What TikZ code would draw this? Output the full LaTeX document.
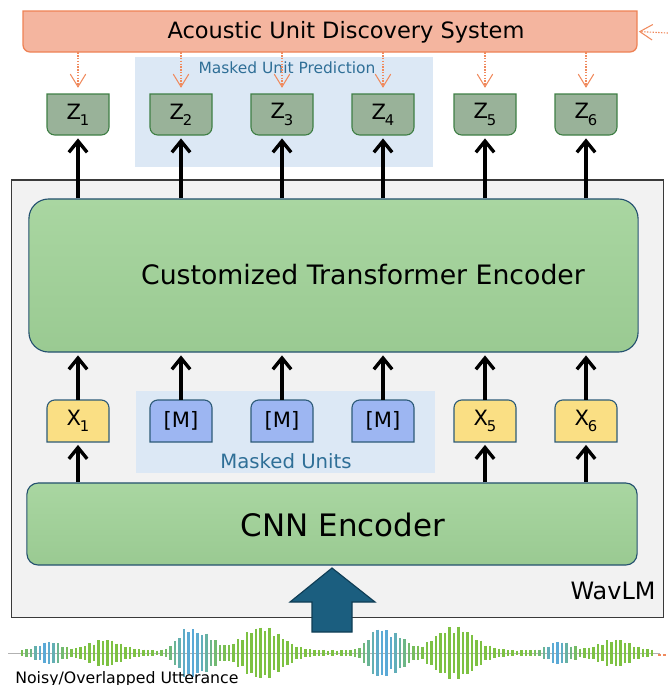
\documentclass[tikz,border=0pt]{standalone}
\usepackage{fontspec}
\setmainfont{DejaVu Sans}
\usetikzlibrary{arrows.meta,positioning}

\definecolor{audfill}{HTML}{F4B59F}
\definecolor{audline}{HTML}{EE8255}
\definecolor{hintline}{HTML}{F08A5D}
\definecolor{maskbg}{HTML}{DCE8F5}
\definecolor{masktext}{HTML}{2F6F97}
\definecolor{zfill}{HTML}{99B299}
\definecolor{zline}{HTML}{3F7F45}
\definecolor{enctop}{HTML}{A9D6A1}
\definecolor{encbot}{HTML}{9ACA92}
\definecolor{encline}{HTML}{24516F}
\definecolor{xfill}{HTML}{FADF84}
\definecolor{mfill}{HTML}{9DB6F2}
\definecolor{boxline}{HTML}{2D5B78}
\definecolor{wavbg}{HTML}{F2F2F2}
\definecolor{wavline}{HTML}{3A3A3A}
\definecolor{feedfill}{HTML}{1B5E7F}
\definecolor{feedline}{HTML}{0F3D55}
\definecolor{waveblue}{HTML}{5AA9D9}
\definecolor{wavegreen}{HTML}{7DC142}

\newcommand{\unitlabel}[2]{#1\kern-0.8pt\raisebox{-0.55ex}{\fontsize{10.5}{10.5}\selectfont #2}}

\begin{document}
\begin{tikzpicture}[x=0.025cm, y=-0.025cm,
  every node/.style={inner sep=0pt},
  uparrow/.style={-{Straight Barb[length=8pt,width=13pt]}, line width=2.4pt, shorten >=2pt},
  hintarrow/.style={-{Straight Barb[length=9pt,width=11pt,line width=0.75pt]}, draw=hintline, dash pattern=on 1pt off 1pt, line width=0.8pt, shorten >=4pt},
  unitbox/.style={minimum width=1.55cm, minimum height=1.04cm, font=\fontsize{15}{15}\selectfont},
  zshape/.style={fill=zfill, draw=zline, line width=0.8pt},
  xshape/.style={fill=xfill, draw=boxline, line width=0.8pt},
  mshape/.style={fill=mfill, draw=boxline, line width=0.8pt},
  encoder/.style={draw=encline, line width=0.8pt, top color=enctop, bottom color=encbot},
  maskarea/.style={fill=maskbg},
  declare function={bump(\t,\c,\w)=exp(-min(((\t-\c)/\w)*((\t-\c)/\w),30));}]

\useasboundingbox (0,0) rectangle (668,685);

\draw[fill=audfill, draw=audline, line width=0.9pt] (330,11) -- (23,11) [rounded corners=5pt] -- (23,52) -- (637,52) [sharp corners] -- (637,11) -- cycle;
\node[minimum width=15.35cm, minimum height=1.025cm] (aud) at (330,31.5) {};
\node[font=\fontsize{16}{16}\selectfont] (audlabel) at (346,32) {Acoustic Unit Discovery System};
\coordinate (fbin) at (668,33);
\draw[hintarrow, shorten >=1pt] (fbin) -- (aud.east);

\node[maskarea, minimum width=7.45cm, minimum height=2.75cm] (predarea) at (284,112) {};
\node[font=\fontsize{11}{11}\selectfont, text=masktext] (predlabel) at (287,68) {Masked Unit Prediction};

\node[fill=wavbg, draw=wavline, line width=0.8pt, minimum width=16.275cm, minimum height=10.925cm] (wavlm) at (337.5,398.5) {};
\node[font=\fontsize{17}{17}\selectfont] (wavlmlabel) at (613,591) {WavLM};

\node[maskarea, minimum width=7.475cm, minimum height=2.05cm] (maskedarea) at (285.5,432) {};
\node[font=\fontsize{14}{14}\selectfont, text=masktext] (masklabel) at (286,461) {Masked Units};

\node[encoder, rounded corners=14pt, minimum width=15.225cm, minimum height=3.825cm] (enc) at (333.5,275.5) {};
\node[font=\fontsize{19}{19}\selectfont] (enclabel) at (363,275) {Customized Transformer Encoder};

\node[encoder, rounded corners=8pt, minimum width=15.25cm, minimum height=2.05cm] (cnn) at (332,524) {};
\node[font=\fontsize{22}{22}\selectfont] (cnnlabel) at (343,525) {CNN Encoder};

\foreach \i/\xx in {1/78,2/181,3/282,4/383,5/485,6/586} {
  \draw[zshape] (\xx,94) -- (\xx-31,94) [rounded corners=5.5pt] -- (\xx-31,135) -- (\xx+31,135) [sharp corners] -- (\xx+31,94) -- cycle;
  \node[unitbox] (z\i) at (\xx,114.5) {\unitlabel{Z}{\i}};
  \draw[hintarrow] (aud.south -| z\i) -- (z\i.north);
  \draw[uparrow] (enc.north -| z\i) -- (z\i.south);
}

\foreach \i/\xx/\lbl/\kind in {1/78/{\unitlabel{X}{1}}/xshape, 2/181/{[M]}/mshape, 3/282/{[M]}/mshape, 4/383/{[M]}/mshape, 5/485/{\unitlabel{X}{5}}/xshape, 6/586/{\unitlabel{X}{6}}/xshape} {
  \draw[\kind] (\xx,442) -- (\xx-31,442) [rounded corners=5.5pt] -- (\xx-31,400) -- (\xx+31,400) [sharp corners] -- (\xx+31,442) -- cycle;
  \node[unitbox] (x\i) at (\xx,421) {\lbl};
  \draw[uparrow] (x\i.north) -- (enc.south -| x\i);
}
\foreach \i in {1,5,6}
  \draw[uparrow] (cnn.north -| x\i) -- (x\i.south);

\draw[gray!60, line width=0.5pt] (8,653) -- (660,653);
\foreach \wx in {22,26.5,...,652} {
  \pgfmathsetmacro\amp{(3+9*bump(\wx,50,15)+11*bump(\wx,105,22)+22*bump(\wx,187,13)+14*bump(\wx,207,12)+24*bump(\wx,262,27)+22*bump(\wx,378,13)+14*bump(\wx,398,12)+24*bump(\wx,455,27)+9*bump(\wx,560,15)+11*bump(\wx,615,22))*(0.72+0.28*abs(sin(\wx*23)))}
  \pgfmathtruncatemacro\blu{100*min(1,bump(\wx,45,16)+bump(\wx,192,22)+bump(\wx,385,22)+bump(\wx,556,16))}
  \draw[waveblue!\blu!wavegreen, line width=1.9pt] (\wx,653-\amp) -- (\wx,653+\amp);
}
\coordinate (wend) at (658,655);
\coordinate (wout) at (668,655);
\draw[hintline, dash pattern=on 2pt off 1.5pt, line width=0.75pt] (wend) -- (wout);

\filldraw[fill=feedfill, draw=feedline, line width=0.8pt] (312,632) -- (312,602) -- (290,602) -- (332,568) -- (375,602) -- (352,602) -- (352,632) -- cycle;

\node[anchor=base west, font=\fontsize{11.2}{11.2}\selectfont] (uttlabel) at (15,683) {Noisy/Overlapped Utterance};
\end{tikzpicture}
\end{document}
